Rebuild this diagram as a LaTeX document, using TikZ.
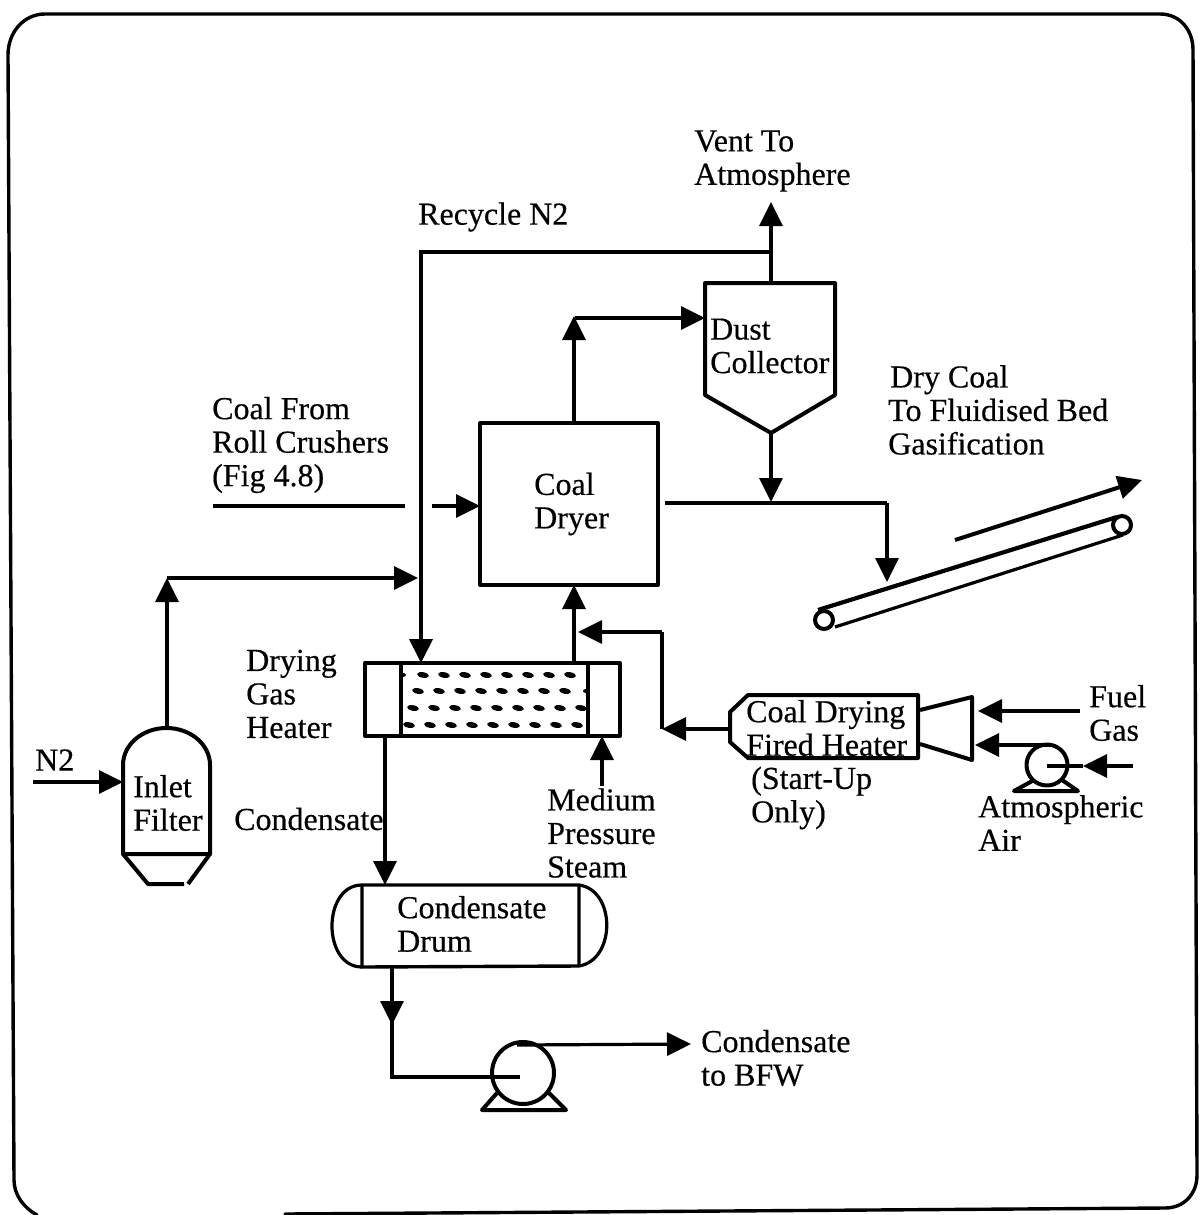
\documentclass[tikz,border=0pt]{standalone}
\usepackage{fontspec}
\setmainfont[FakeBold=0.4]{Liberation Serif}
\usetikzlibrary{arrows.meta}
\tikzset{
  pipe/.style={line width=3.2pt,line join=miter},
  flow/.style={pipe,-{Triangle[length=24pt,width=23pt]}},
  vessel/.style={line width=4pt,line join=round},
  lab/.style={font=\fontsize{32}{33.5}\selectfont,align=left,inner sep=0pt,anchor=west,text=black},
}
\begin{document}
\begin{tikzpicture}[x=1pt,y=-1pt]
\useasboundingbox (0,0) rectangle (1204,1215);
% frame
\draw[line width=3.4pt,line cap=round] (285,1214) -- (1165,1208) .. controls (1184,1208) and (1197,1194) .. (1197,1175) -- (1193,50) .. controls (1193,30) and (1180,14) .. (1160,14) -- (45,14) .. controls (24,14) and (8,32) .. (8,55) -- (14,1180) .. controls (14,1195) and (24,1208) .. (37,1215);
% equipment
\node[draw,vessel,inner sep=0pt,minimum width=178pt,minimum height=162pt] (dryer) at (569,504) {};
\draw[vessel] (705,283) -- (835,283) -- (835,395) -- (771,433) -- (705,395) -- cycle;
\coordinate (dusttop) at (771,283);
\coordinate (dustin) at (705,318);
\coordinate (dustbot) at (771,433);
% heater
\draw[vessel] (365,663) rectangle (620,736);
\draw[vessel] (401,663) -- (401,736) (588,663) -- (588,736);
\foreach \yy/\xs/\n in {675/423/7,691/418/7,708/413/8,725/409/8}{
  \foreach \i in {0,...,\n}{
    \fill[rotate around={-10:(\xs+\i*21,\yy)}] (\xs+\i*21,\yy) ellipse (6pt and 2.8pt);
  }
}
\fill (403,675) ellipse (3pt and 2pt);
\fill (586,691) ellipse (3pt and 2pt);
\coordinate (htrtop) at (421,663);
\coordinate (htrout) at (574,663);
\coordinate (htrbot) at (385,736);
\coordinate (htrsteam) at (602,736);
% inlet filter
\draw[vessel] (123,854) -- (123,765) arc[start angle=180,end angle=0,x radius=43.5pt,y radius=37pt] -- (210,854) -- cycle;
\draw[vessel] (123,854) -- (148,884) -- (184,884);
\draw[vessel] (210,854) -- (188,884);
\coordinate (filtertop) at (167,728);
\coordinate (filterin) at (123,782);
% condensate drum
\draw[vessel,line width=3.4pt] (362,885) -- (579,885) -- (579,966) -- (362,967) -- cycle;
\draw[line width=3.2pt] (362,885) .. controls (322,885) and (322,967) .. (362,967);
\draw[line width=3.2pt] (579,885) .. controls (616,890) and (616,960) .. (579,966);
\coordinate (drumtop) at (385,885);
\coordinate (drumbot) at (392,967);
% condensate pump
\draw[vessel] (523,1073) circle (31pt);
\draw[vessel] (497,1093) -- (482,1110) -- (566,1110) -- (549,1093);
\coordinate (pumpc) at (520,1077);
\coordinate (pumpt) at (517,1045);
% fired heater
\draw[vessel] (748,695) -- (918,695) -- (918,758) -- (748,758) -- (730,742) -- (730,712) -- cycle;
\draw[vessel] (920,710) -- (972,697) -- (972,760) -- (920,744);
\coordinate (fhleft) at (730,729);
\coordinate (burntop) at (978,711);
\coordinate (burnbot) at (975,745);
% air blower
\draw[vessel] (1047,765) circle (20.5pt);
\draw[vessel] (1034,780) -- (1014,791) -- (1078,791) -- (1062,780);
\coordinate (blowc) at (1047,766);
\coordinate (blowt) at (1050,745);
% conveyor
\draw[vessel] (824,620) circle (9pt);
\draw[vessel] (1122,525) circle (9pt);
\draw[line width=4.2pt] (818,610) -- (1117,517);
\draw[line width=3.2pt] (835,627) -- (1123,535);
% free ends and junctions
\coordinate (n2start) at (33,782);
\coordinate (n2j) at (167,578);
\coordinate (n2end) at (418,578);
\coordinate (recj) at (771,251.5);
\coordinate (recc) at (421,251.5);
\coordinate (vent) at (771,202);
\coordinate (topj) at (574,316);
\coordinate (topk) at (575,318);
\coordinate (coalA) at (213,506);
\coordinate (coalB) at (405,506);
\coordinate (coalC) at (432,506);
\coordinate (dryout) at (665,503);
\coordinate (dropj) at (887,503);
\coordinate (dustdrop) at (771,502);
\coordinate (fhj) at (662,729);
\coordinate (fhk) at (662,632);
\coordinate (fhend) at (578,632);
\coordinate (dryin) at (574,585);
\coordinate (fuel) at (1080,711);
\coordinate (airs) at (1133,766);
\coordinate (airtip) at (1083,766);
\coordinate (steam) at (602,786);
\coordinate (condbend) at (392,1077);
\coordinate (condtip) at (392,1025);
\coordinate (pumpj) at (691,1044);
\coordinate (dryerin) at (480,506);
\coordinate (dryertop) at (574,423);
\coordinate (arrA) at (955,540);
\coordinate (arrB) at (1142,480);
\coordinate (convdrop) at (887,582);
% connectors
\draw[flow] (n2start) -- (filterin);
\draw[flow] (filtertop) -- (n2j);
\draw[flow] (n2j) -- (n2end);
\draw[flow,line width=4pt] (recj) -- (recc) -- (htrtop);
\draw[flow] (dusttop) -- (vent);
\draw[flow] (dryertop) -- (topj);
\draw[flow] (topk) -- (dustin);
\draw[pipe] (coalA) -- (coalB);
\draw[flow] (coalC) -- (dryerin);
\draw[pipe] (dryout) -- (dropj);
\draw[flow] (dropj) -- (convdrop);
\draw[flow] (dustbot) -- (dustdrop);
\draw[flow] (htrout) -- (dryin);
\draw[flow] (fhleft) -- (fhj);
\draw[pipe] (fhj) -- (fhk);
\draw[flow] (fhk) -- (fhend);
\draw[flow] (fuel) -- (burntop);
\draw[flow] (blowt) -- (burnbot);
\draw[flow] (airs) -- (airtip);
\draw[pipe] (airtip) -- (blowc);
\draw[flow] (htrbot) -- (drumtop);
\draw[flow] (steam) -- (htrsteam);
\draw[flow,line width=4pt] (arrA) -- (arrB);
\draw[pipe] (drumbot) -- (condbend) -- (pumpc);
\draw[flow] (drumbot) -- (condtip);
\draw[flow] (pumpt) -- (pumpj);
% labels
\node[lab] (tvent) at (694,161) {Vent To\\Atmosphere};
\node[lab] (trec) at (418,217) {Recycle N2};
\node[lab] (tdust) at (710,346) {Dust\\Collector};
\node[lab] (tdry) at (888,410) {\hspace*{2pt}Dry Coal\\To Fluidised Bed\\Gasification};
\node[lab] (tcoal) at (212,445) {Coal From\\Roll Crushers\\(Fig 4.8)};
\node[lab] (tdryer) at (534,504) {Coal\\Dryer};
\node[lab] (tgas) at (246,694) {Drying\\Gas\\Heater};
\node[lab] (tn2) at (35,760) {N2};
\node[lab] (tfilter) at (133,803) {Inlet\\Filter};
\node[lab] (tcondl) at (234,819) {Condensate};
\node[lab] (tsteam) at (547,833) {Medium\\Pressure\\Steam};
\node[lab] (tdrum) at (397,924) {Condensate\\Drum};
\node[lab] (tfh) at (746,728) {Coal Drying\\Fired Heater};
\node[lab] (tstart) at (751,798) {(Start-Up\\Only)};
\node[lab] (tfuel) at (1089,713) {Fuel\\Gas};
\node[lab] (tair) at (978,823) {Atmospheric\\Air};
\node[lab] (tbfw) at (701,1058) {Condensate\\to BFW};
\end{tikzpicture}
\end{document}
